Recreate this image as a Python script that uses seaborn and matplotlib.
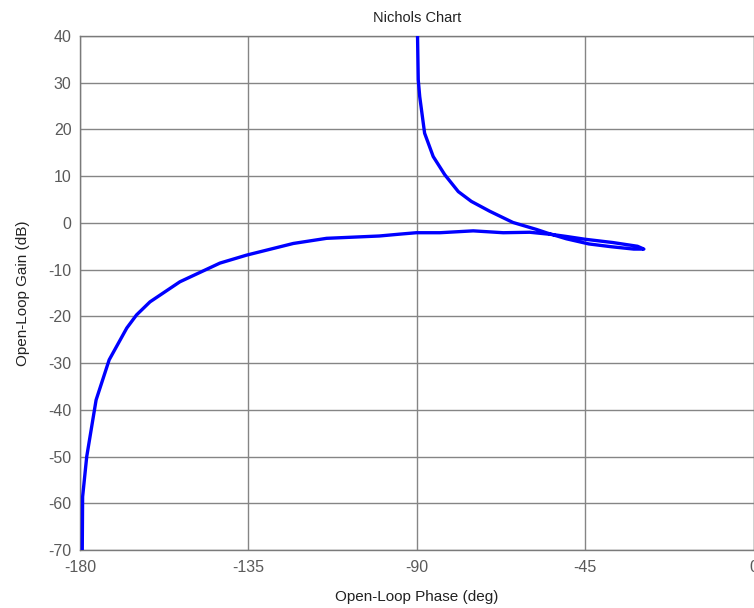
import pandas as pd
import matplotlib
matplotlib.use("Agg")
import matplotlib.pyplot as plt
import seaborn as sns

# Curva de Nichols (fase en grados, ganancia en dB), en orden de frecuencia
fase = [-179.4, -179.3, -178.2, -175.7, -172.2, -167.5, -164.9, -161.3, -153.3,
        -142.6, -135.5, -123.0, -114.1, -100.0, -94.5, -90.1, -83.8, -74.9,
        -66.9, -59.8, -53.6, -50.0, -45.0, -37.6, -31.0, -29.3,
        -32.0, -38.0, -44.0, -50.0, -55.0, -58.0, -64.3, -70.5, -75.4,
        -78.9, -82.5, -85.6, -87.9, -89.2, -89.6, -89.8]
ganancia = [-70.3, -58.6, -50.0, -37.9, -29.3, -22.5, -19.7, -16.9, -12.6,
            -8.6, -6.9, -4.4, -3.3, -2.8, -2.4, -2.1, -2.1, -1.7,
            -2.1, -2.0, -2.5, -2.9, -3.5, -4.2, -5.0, -5.6,
            -5.6, -5.1, -4.5, -3.4, -2.2, -1.4, 0.1, 2.5, 4.6,
            6.7, 10.3, 14.2, 19.2, 27.0, 30.6, 40.5]

xticks = [-180, -135, -90, -45, 0]
yticks = [-70, -60, -50, -40, -30, -20, -10, 0, 10, 20, 30, 40]

df = pd.DataFrame({"fase": fase, "ganancia": ganancia})

sns.set_style("white")
plt.rcParams["font.family"] = ["Liberation Sans", "DejaVu Sans"]
plt.rcParams["axes.unicode_minus"] = False

fig = plt.figure(figsize=(7.54, 6.08), dpi=100)
ax = fig.add_axes([80 / 754, 58 / 608, 673.5 / 754, 514 / 608])

sns.lineplot(data=df, x="fase", y="ganancia", sort=False, estimator=None,
             color="#0000ff", linewidth=2.4, ax=ax, zorder=3)

ax.set_xlim(-180, 0)
ax.set_ylim(-70, 40)
ax.set_xticks(xticks)
ax.set_yticks(yticks)
ax.grid(True, color="#858585", linewidth=1.0, linestyle="-")
ax.set_axisbelow(True)
for s in ax.spines.values():
    s.set_color("#7a7a7a")
    s.set_linewidth(1.0)
ax.tick_params(direction="in", length=3, colors="#7a7a7a", labelcolor="#5a5a5a",
               labelsize=11.5, pad=6)
ax.tick_params(axis="x", pad=7)

ax.set_title("Nichols Chart", fontsize=10.5, color="#222222", pad=10)
ax.set_xlabel("Open-Loop Phase (deg)", fontsize=11, color="#222222", labelpad=11)
ax.set_ylabel("Open-Loop Gain (dB)", fontsize=11, color="#222222", labelpad=13)

plt.savefig("out.png", dpi=100)
plt.close()
